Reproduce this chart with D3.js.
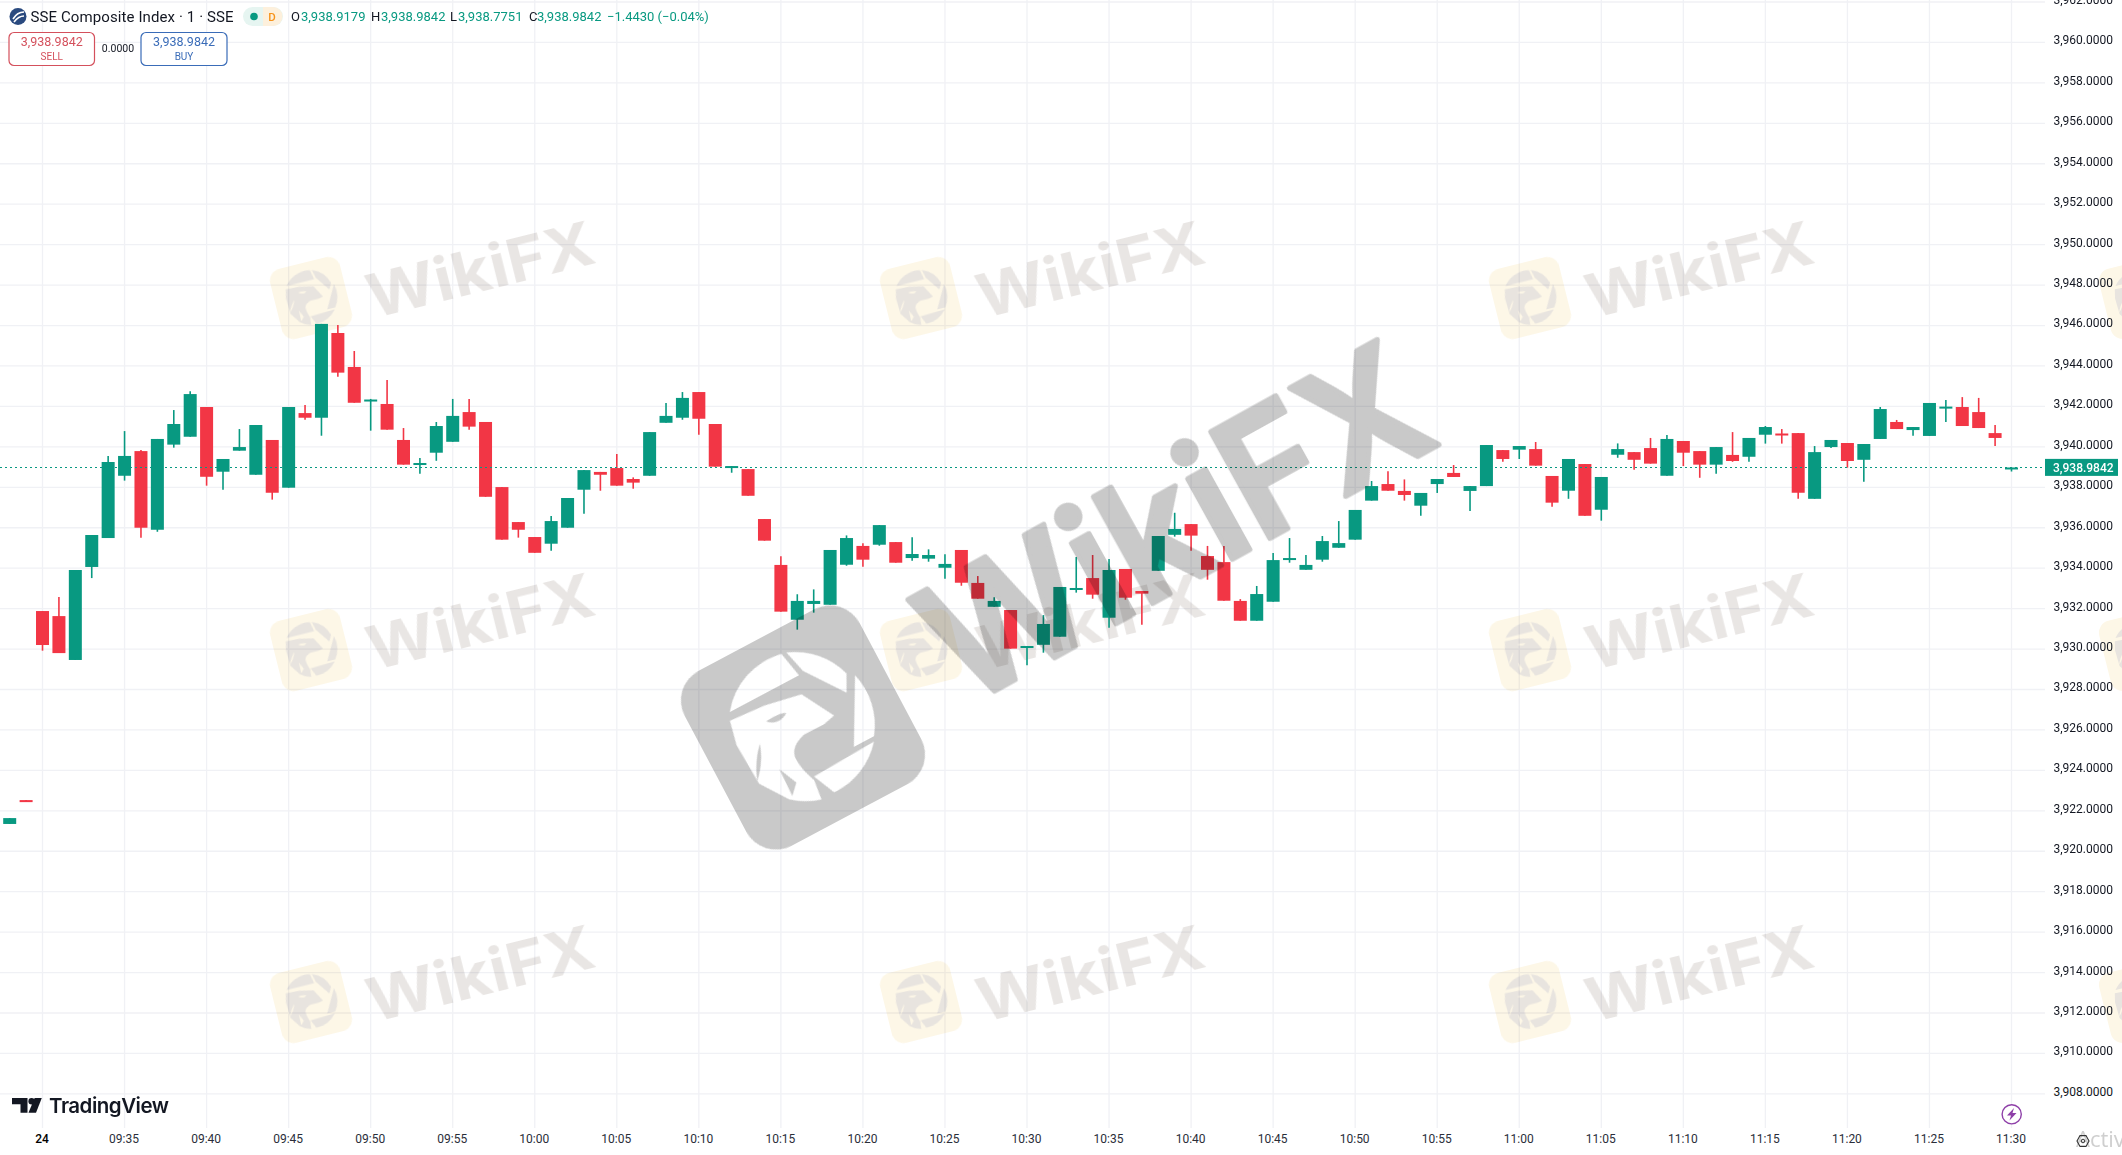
<!DOCTYPE html>
<html>
<head>
<meta charset="utf-8">
<script src="https://cdn.jsdelivr.net/npm/d3@7/dist/d3.min.js"></script>
<style>
  html, body { margin: 0; padding: 0; background: #fff; overflow: hidden; }
  svg { display: block; font-family: Roboto, sans-serif; }
  .axis path, .axis line { display: none; }
</style>
</head>
<body>
<div id="chart"></div>
<script>
// one minute bars, two from the previous session then 09:30 - 11:30
var opens = [3921.35,3922.53,
  3931.88,3931.63,3929.46,3934.06,3935.49,3938.57,3939.79,3935.90,3940.11,3940.50,
  3941.97,3938.77,3939.81,3938.62,3940.34,3937.98,3941.67,3941.44,3945.63,3943.95,
  3942.27,3942.12,3940.34,3939.13,3939.71,3940.25,3941.72,3941.23,3938.01,3936.28,
  3935.54,3935.21,3936.00,3937.88,3938.76,3938.95,3938.41,3938.57,3941.19,3941.44,
  3942.71,3941.13,3939.00,3938.90,3936.43,3934.16,3931.45,3932.23,3932.19,3934.17,
  3935.10,3935.16,3935.29,3934.50,3934.47,3934.02,3934.90,3933.27,3932.09,3931.93,
  3930.10,3930.21,3930.61,3932.97,3933.51,3931.55,3933.96,3932.87,3933.87,3935.65,
  3936.18,3934.60,3934.30,3932.38,3931.40,3932.34,3934.45,3933.92,3934.42,3935.01,
  3935.41,3937.34,3938.16,3937.82,3937.09,3938.16,3938.71,3937.82,3938.06,3939.84,
  3939.86,3939.89,3938.56,3937.83,3939.15,3936.89,3939.61,3939.74,3939.94,3938.57,
  3940.29,3939.79,3939.12,3939.60,3939.51,3940.60,3940.66,3940.68,3937.43,3939.99,
  3940.19,3939.36,3940.39,3941.23,3940.83,3940.54,3941.95,3941.97,3941.72,3940.68,3938.92];
var highs = [3921.64,3922.53,
  3931.88,3932.57,3933.91,3935.64,3939.55,3940.78,3939.84,3940.39,3941.82,3942.75,
  3941.97,3939.40,3940.88,3941.08,3940.34,3941.97,3942.07,3946.08,3946.03,3944.74,
  3942.37,3943.31,3940.93,3939.45,3941.23,3942.37,3942.37,3941.23,3938.01,3936.28,
  3935.54,3936.58,3937.47,3938.85,3938.76,3939.65,3938.49,3940.73,3942.17,3942.71,
  3942.71,3941.13,3939.05,3938.90,3936.43,3934.59,3932.71,3932.95,3934.90,3935.62,
  3935.23,3936.13,3935.29,3935.53,3934.93,3934.69,3934.90,3933.61,3932.56,3931.93,
  3930.15,3931.68,3933.07,3934.55,3934.65,3934.45,3933.96,3932.87,3935.59,3936.74,
  3936.18,3935.10,3935.10,3932.47,3933.12,3934.75,3935.49,3934.65,3935.59,3936.33,
  3936.88,3938.31,3938.79,3938.39,3937.72,3938.41,3939.10,3938.06,3940.09,3939.84,
  3940.04,3940.24,3938.56,3939.40,3939.15,3938.51,3940.17,3939.74,3940.44,3940.59,
  3940.29,3939.79,3939.99,3940.73,3940.44,3941.03,3940.88,3940.68,3940.04,3940.34,
  3940.19,3940.14,3941.97,3941.33,3940.98,3942.17,3942.32,3942.46,3942.42,3941.08,3938.98];
var lows = [3921.35,3922.43,
  3929.92,3929.80,3929.46,3933.51,3935.49,3938.33,3935.51,3935.80,3939.96,3940.50,
  3938.08,3937.88,3939.81,3938.62,3937.39,3937.98,3941.34,3940.55,3943.47,3942.18,
  3940.80,3940.85,3939.12,3938.67,3939.31,3940.25,3940.85,3937.53,3935.41,3935.51,
  3934.76,3934.86,3936.00,3936.69,3937.83,3938.08,3937.93,3938.57,3941.19,3941.34,
  3940.60,3939.02,3938.72,3937.58,3935.36,3931.85,3930.96,3931.80,3932.19,3934.12,
  3934.07,3935.11,3934.27,3934.37,3934.32,3933.48,3933.13,3932.49,3932.09,3930.02,
  3929.20,3929.82,3930.61,3932.79,3932.49,3931.05,3932.44,3931.20,3933.87,3935.56,
  3934.86,3933.43,3932.39,3931.40,3931.40,3932.34,3934.27,3933.92,3934.32,3935.01,
  3935.41,3937.34,3937.83,3937.34,3936.59,3937.72,3938.51,3936.83,3938.06,3939.26,
  3939.40,3939.07,3937.04,3937.43,3936.59,3936.35,3939.46,3938.87,3939.17,3938.57,
  3939.05,3938.47,3938.67,3939.26,3939.26,3940.16,3940.16,3937.43,3937.43,3939.94,
  3938.97,3938.28,3940.39,3940.88,3940.55,3940.54,3941.23,3941.03,3940.93,3940.04,3938.78];
var closes = [3921.64,3922.43,
  3930.20,3929.80,3933.91,3935.64,3939.25,3939.55,3936.00,3940.39,3941.13,3942.61,
  3938.52,3939.40,3939.99,3941.08,3937.73,3941.97,3941.44,3946.08,3943.67,3942.18,
  3942.34,3940.85,3939.12,3939.20,3941.03,3941.53,3941.00,3937.53,3935.41,3935.90,
  3934.76,3936.33,3937.47,3938.85,3938.62,3938.08,3938.23,3940.73,3941.53,3942.42,
  3941.39,3939.02,3939.05,3937.58,3935.36,3931.85,3932.38,3932.38,3934.90,3935.49,
  3934.42,3936.13,3934.27,3934.70,3934.65,3934.21,3933.28,3932.49,3932.38,3930.02,
  3930.15,3931.24,3933.07,3933.02,3932.69,3933.91,3932.54,3932.74,3935.59,3935.94,
  3935.61,3933.92,3932.39,3931.40,3932.72,3934.40,3934.50,3934.16,3935.34,3935.24,
  3936.88,3938.06,3937.83,3937.62,3937.72,3938.41,3938.51,3938.06,3940.09,3939.40,
  3940.04,3939.07,3937.24,3939.40,3936.59,3938.51,3939.89,3939.36,3939.17,3940.39,
  3939.71,3939.12,3939.99,3939.30,3940.44,3940.98,3940.61,3937.73,3939.74,3940.34,
  3939.30,3940.14,3941.87,3940.88,3940.98,3942.17,3941.99,3941.03,3940.93,3940.44,3938.98];

var timeBars = [2,7,12,17,22,27,32,37,42,47,52,57,62,67,72,77,82,87,92,97,102,107,112,117,122];
var timeLabels = ["24","09:35","09:40","09:45","09:50","09:55","10:00","10:05","10:10","10:15","10:20",
  "10:25","10:30","10:35","10:40","10:45","10:50","10:55","11:00","11:05","11:10","11:15","11:20","11:25","11:30"];
var priceTicks = [3908,3910,3912,3914,3916,3918,3920,3922,3924,3926,3928,3930,3932,3934,3936,3938,
  3940,3942,3944,3946,3948,3950,3952,3954,3956,3958,3960,3962];
var lastPrice = 3938.9842;

var width = 2122, height = 1155,
    upColor = "#089981", downColor = "#f23645", textColor = "#131722", gridColor = "#f0f1f5";

var x = d3.scaleLinear().domain([0, 122]).range([9.7, 2011.5]);
var y = d3.scaleLinear().domain([3908, 3962]).range([1093.9, 2]);

var svg = d3.select("#chart").append("svg").attr("width", width).attr("height", height);
svg.append("rect").attr("width", width).attr("height", height).attr("fill", "#fff");

// grid
svg.append("g").selectAll("line").data(priceTicks).enter().append("line")
    .attr("x1", 0).attr("x2", 2045)
    .attr("y1", function (d) {return y(d);}).attr("y2", function (d) {return y(d);})
    .attr("stroke", gridColor).attr("stroke-width", 1.3);
svg.append("g").selectAll("line").data(timeBars).enter().append("line")
    .attr("x1", function (d) {return x(d);}).attr("x2", function (d) {return x(d);})
    .attr("y1", 0).attr("y2", 1128)
    .attr("stroke", gridColor).attr("stroke-width", 1.3);

// eagle logo, drawn round 0,0 in a 100 unit tile
var logoPieces = [
    "M-29,-24.3 A36.7,36.7 0 0 1 7.8,-38 L10.6,-24.3 Z",
    "M10.4,-37.4 A36.7,36.7 0 0 1 32.2,-13.8 L27.7,-5.2 L13.4,-25.2 Z",
    "M35.6,-11 A36.7,36.7 0 0 1 29.6,20.7 L18.1,20.7 Z",
    "M-31,-20.3 L-12,-19 L7.2,-15.1 L16.7,2 L10.2,3.5 L-1.2,3.4 C-8,5 -11,9 -10.6,13 C-10.5,18 -9,22 -7.5,26.1 L-8.8,36.5 A36.7,36.7 0 0 1 -23.2,28.8 L-32.9,14.6 L-33.8,-7.9 Z",
    "M28.3,23.1 L-6.7,24.5 L-1.5,36.3 A36.7,36.7 0 0 0 28.3,23.1 Z"
];
var logoCuts = [
    "M-15,-11.5 C-12,-8 -7,-8 -4,-10.5 C-7,-12 -11,-12 -15,-11.5 Z",
    "M-23,-3 C-25,3 -28,8 -33,13 C-31,7 -27,1 -23,-3 Z",
    "M-20.4,13 L-16,23 L-21,28 Z"
];
function logo(g, tile, mark) {
    g.append("rect").attr("x", -50).attr("y", -50).attr("width", 100).attr("height", 100).attr("rx", 17).attr("fill", tile);
    logoPieces.forEach(function (d) {g.append("path").attr("d", d).attr("fill", mark);});
    logoCuts.forEach(function (d) {g.append("path").attr("d", d).attr("fill", tile);});
}

// faint repeated watermark
var smallCols = [311, 921, 1530, 2140], smallRows = [298, 650, 1002];
var marks = svg.append("g").style("mix-blend-mode", "multiply");
smallRows.forEach(function (row) {
    smallCols.forEach(function (col) {
        var t = marks.append("g").attr("transform", "translate(" + col + "," + row + ")rotate(-14)");
        logo(t.append("g").attr("transform", "scale(0.72)"), "#fdf7e7", "#e8e4df");
        // last column only has its tile on the page
        if (col + 56 < width) {
            t.append("text").attr("x", 55).attr("y", 35)
                .attr("font-family", "Inter").attr("font-weight", 700).attr("font-size", 60)
                .attr("textLength", 232).attr("lengthAdjust", "spacingAndGlyphs")
                .attr("fill", "#e9e6e4").text("WikiFX");
        }
    });
});

// candles
var bars = d3.range(opens.length);
function barColor(i) {return closes[i] >= opens[i] ? upColor : downColor;}

svg.append("g").selectAll("line").data(bars).enter().append("line")
    .attr("x1", function (i) {return x(i);}).attr("x2", function (i) {return x(i);})
    .attr("y1", function (i) {return y(highs[i]);}).attr("y2", function (i) {return y(lows[i]);})
    .attr("stroke", barColor).attr("stroke-width", 1.6);

svg.append("g").selectAll("rect").data(bars).enter().append("rect")
    .attr("x", function (i) {return x(i) - 6.5;}).attr("width", 13)
    .attr("y", function (i) {return y(Math.max(opens[i], closes[i]));})
    .attr("height", function (i) {return Math.max(2, Math.abs(y(opens[i]) - y(closes[i])));})
    .attr("fill", barColor);

// last price line
svg.append("line").attr("x1", 0).attr("x2", 2045)
    .attr("y1", Math.round(y(lastPrice)) + 0.5).attr("y2", Math.round(y(lastPrice)) + 0.5)
    .attr("stroke", upColor).attr("stroke-width", 1).attr("stroke-dasharray", "2 3");

// big watermark
var big = svg.append("g").style("mix-blend-mode", "multiply");
logo(big.append("g").attr("transform", "translate(803,727.5)rotate(-28)scale(1.98)"), "#c9c9c9", "#ffffff");
big.append("text").attr("transform", "translate(1174,523)rotate(-29)")
    .attr("text-anchor", "middle").attr("dy", "0.36em")
    .attr("font-family", "Inter").attr("font-weight", 600).attr("font-size", 168)
    .attr("textLength", 548).attr("lengthAdjust", "spacingAndGlyphs")
    .attr("fill", "#c9c9c9").attr("stroke", "#c9c9c9").attr("stroke-width", 5).attr("stroke-linejoin", "round")
    .text("WikiFX");

// axes
svg.append("g").attr("class", "axis")
    .attr("transform", "translate(2053.5,-2.4)")
    .call(d3.axisRight(y).tickValues(priceTicks).tickSize(0).tickPadding(0).tickFormat(d3.format(",.4f")))
    .selectAll("text").attr("font-family", "Roboto").attr("font-size", 12).attr("fill", textColor);

var timeAxis = svg.append("g").attr("class", "axis")
    .attr("transform", "translate(-1,1130)")
    .call(d3.axisBottom(x).tickValues(timeBars).tickSize(0).tickPadding(4)
        .tickFormat(function (d, i) {return timeLabels[i];}));
timeAxis.selectAll("text").attr("font-family", "Roboto").attr("font-size", 12)
    .attr("fill", function (d, i) {return i == 0 ? "#000" : "#2a2e39";})
    .attr("font-weight", function (d, i) {return i == 0 ? 500 : 400;});

// last price tag
svg.append("rect").attr("x", 2045).attr("y", y(lastPrice) - 8.5).attr("width", 73).attr("height", 17).attr("fill", upColor);
svg.append("text").attr("x", 2053).attr("y", y(lastPrice)).attr("dy", "0.35em")
    .attr("font-size", 12).attr("font-weight", 500).attr("fill", "#fff").text(d3.format(",.4f")(lastPrice));

// header
var head = svg.append("g");
head.append("circle").attr("cx", 18).attr("cy", 16.5).attr("r", 8.5).attr("fill", "#2a4a7f");
head.append("path").attr("d", "M13,19 C16,14 20,12 24,12 M14,22 C17,18 21,16 24,16").attr("fill", "none").attr("stroke", "#fff").attr("stroke-width", 1.6);
head.append("text").attr("x", 30.5).attr("y", 21.5).attr("font-size", 15).attr("textLength", 203).attr("fill", textColor).text("SSE Composite Index \u00b7 1 \u00b7 SSE");
head.append("rect").attr("x", 243).attr("y", 7).attr("width", 40).attr("height", 19).attr("rx", 9.5).attr("fill", "#e6f5f1");
head.append("path").attr("d", "M263,7 h10 a9.5,9.5 0 0 1 0,19 h-10 Z").attr("fill", "#fdf0dc");
head.append("circle").attr("cx", 254).attr("cy", 16.5).attr("r", 3.8).attr("fill", upColor);
head.append("text").attr("x", 272).attr("y", 20.5).attr("text-anchor", "middle").attr("font-size", 11.5).attr("font-weight", 500).attr("fill", "#f7931a").text("D");

var legendParts = [["O", 291, textColor], ["3,938.9179", 301, upColor], ["H", 371, textColor], ["3,938.9842", 381, upColor],
    ["L", 450, textColor], ["3,938.7751", 458, upColor], ["C", 529, textColor], ["3,938.9842", 537, upColor],
    ["\u22121.4430 (\u22120.04%)", 607, upColor]];
head.selectAll("text.legend").data(legendParts).enter().append("text").attr("class", "legend")
    .attr("x", function (d) {return d[1];}).attr("y", 20.8)
    .attr("font-size", 13).attr("fill", function (d) {return d[2];})
    .text(function (d) {return d[0];});

function tradeBox(bx, bw, color, label) {
    head.append("rect").attr("x", bx).attr("y", 32.5).attr("width", bw).attr("height", 33).attr("rx", 5)
        .attr("fill", "#fff").attr("stroke", color).attr("stroke-width", 1.2);
    head.append("text").attr("x", bx + bw / 2).attr("y", 46).attr("text-anchor", "middle").attr("font-size", 12.5).attr("fill", color).text("3,938.9842");
    head.append("text").attr("x", bx + bw / 2).attr("y", 60).attr("text-anchor", "middle").attr("font-size", 10).attr("fill", color).text(label);
}
tradeBox(9, 85.5, "#d4505c", "SELL");
tradeBox(141, 86, "#3a6cb8", "BUY");
head.append("text").attr("x", 118).attr("y", 52).attr("text-anchor", "middle").attr("font-size", 10.5).attr("fill", textColor).text("0.0000");

// TradingView logo
var tv = svg.append("g").attr("fill", "#131722");
tv.append("path").attr("d", "M12,1098 H27.5 V1112.7 H20.5 V1104.2 H12 Z");
tv.append("circle").attr("cx", 31.6).attr("cy", 1101.2).attr("r", 3.2);
tv.append("path").attr("d", "M34.6,1098 H41.8 L36,1112.7 H28.5 Z");
tv.append("text").attr("x", 49).attr("y", 1112.5).attr("font-family", "Inter").attr("font-size", 20.5)
    .attr("font-weight", 600).attr("textLength", 120).text("TradingView");

// bottom right bits
svg.append("circle").attr("cx", 2011.7).attr("cy", 1114.3).attr("r", 9.6).attr("fill", "#fff").attr("stroke", "#8e3fa8").attr("stroke-width", 1.4);
svg.append("path").attr("d", "M2014,1108 L2007,1115.5 H2011 L2009.5,1120.5 L2016.5,1113 H2012.5 Z").attr("fill", "#8e3fa8");
svg.append("text").attr("x", 2076).attr("y", 1147).attr("font-family", "Open Sans").attr("font-size", 22).attr("fill", "#cfcfcf").text("Activa");
svg.append("path").attr("d", "M2077,1141 L2080,1135.6 H2086 L2089,1141 L2086,1146.4 H2080 Z").attr("fill", "none").attr("stroke", "#333").attr("stroke-width", 1.1);
svg.append("circle").attr("cx", 2083).attr("cy", 1141).attr("r", 1.8).attr("fill", "none").attr("stroke", "#333");
</script>
</body>
</html>
